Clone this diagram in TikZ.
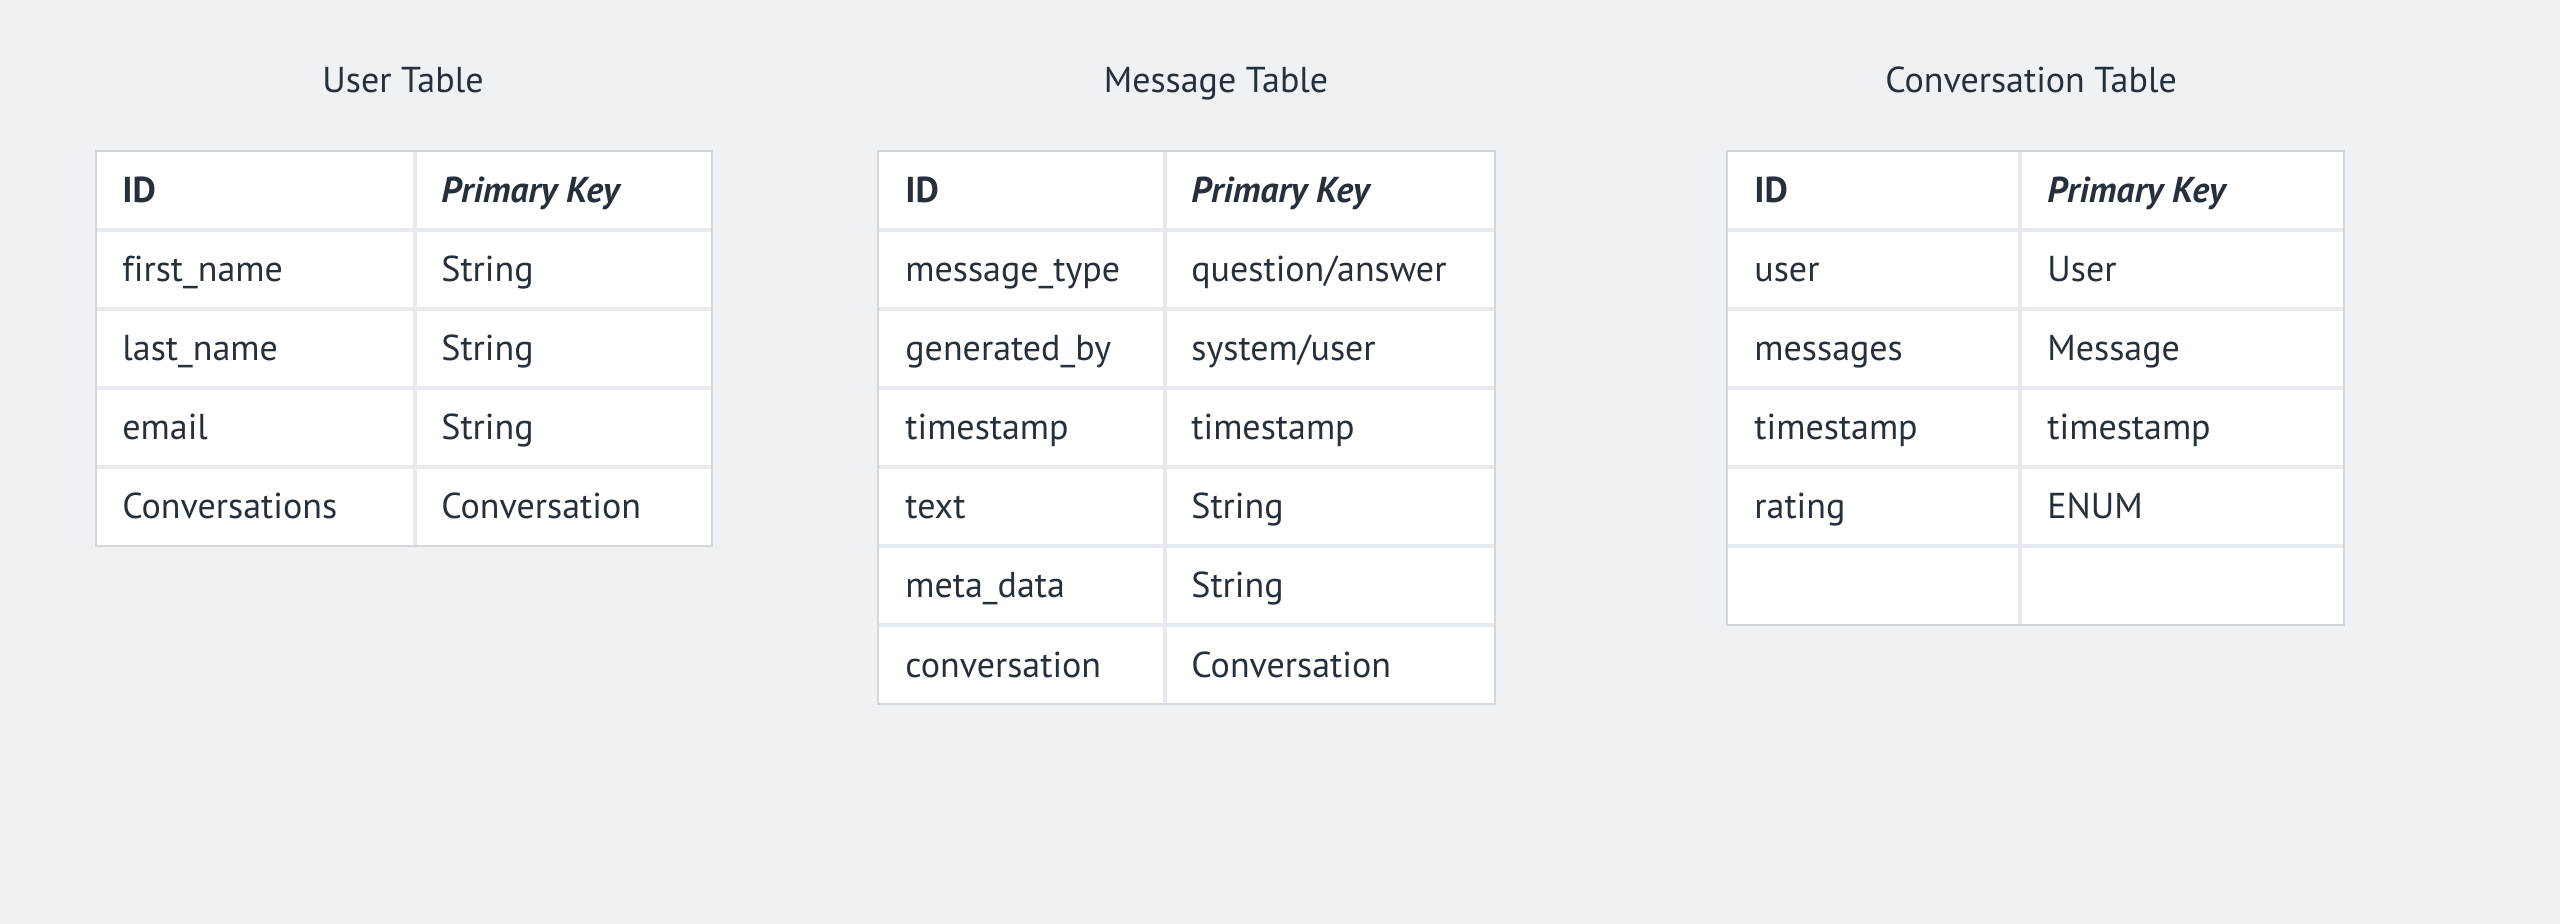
\documentclass[tikz,border=0pt]{standalone}
\usepackage{fontspec}
\setmainfont{PT Sans}[Ligatures=NoCommon]
\definecolor{bg}{HTML}{EFF2F5}
\definecolor{ink}{HTML}{26303B}
\definecolor{gridc}{HTML}{E6EAEE}
\definecolor{edgec}{HTML}{D2D7DC}
\tikzset{
  cell/.style={anchor=base west, inner sep=0pt, text=ink, font=\fontsize{18}{21}\selectfont},
  tabtitle/.style={anchor=base, inner sep=0pt, text=ink, font=\fontsize{18}{21}\selectfont},
  tablebox/.style={fill=white},
  tableedge/.style={draw=edgec, line width=0.7pt},
  gridline/.style={draw=gridc, line width=2pt},
}
\begin{document}
\begin{tikzpicture}[x=0.5pt,y=-0.5pt]
\fill[bg] (0,0) rectangle (2560,924);
\useasboundingbox (0,0) rectangle (2560,924);

% ---------------- User table
\node[tabtitle] (usertitle) at (403,93) {User Table};
\fill[tablebox] (96,151) rectangle (712,546);
\foreach \i in {1,...,4} \draw[gridline] (96,{151+79*\i}) -- (712,{151+79*\i});
\draw[gridline] (414.5,151) -- (414.5,546);
\draw[tableedge] (96,151) rectangle (712,546);
\foreach \k/\v [count=\i from 0] in {
  {\textbf{ID}}/{\textbf{\textit{Primary Key}}},
  first\_name/String,
  last\_name/String,
  email/String,
  Conversations/Conversation}{
  \node[cell] (u-k\i) at (122,{151+79*\i+52}) {\k};
  \node[cell] (u-v\i) at (441,{151+79*\i+52}) {\v};
}

% ---------------- Message table
\node[tabtitle] (msgtitle) at (1216,93) {Message Table};
\fill[tablebox] (878,151) rectangle (1495,704);
\foreach \i in {1,...,6} \draw[gridline] (878,{151+79*\i}) -- (1495,{151+79*\i});
\draw[gridline] (1164.5,151) -- (1164.5,704);
\draw[tableedge] (878,151) rectangle (1495,704);
\foreach \k [count=\i from 0] in {
  {\textbf{ID}},
  message\_type,
  generated\_by,
  timestamp,
  text,
  meta\_data,
  conversation}{
  \node[cell] (m-k\i) at (905,{151+79*\i+52}) {\k};
}
\node[cell] (m-v0) at (1191,{151+52}) {\textbf{\textit{Primary Key}}};
\node[cell] (m-v1) at (1191,{151+79+52}) {question/answer};
\node[cell] (m-v2) at (1191,{151+79*2+52}) {system/user};
\node[cell] (m-v3) at (1191,{151+79*3+52}) {timestamp};
\node[cell] (m-v4) at (1191,{151+79*4+52}) {String};
\node[cell] (m-v5) at (1191,{151+79*5+52}) {String};
\node[cell] (m-v6) at (1191,{151+79*6+52}) {Conversation};

% ---------------- Conversation table
\node[tabtitle] (convtitle) at (2031,93) {Conversation Table};
\fill[tablebox] (1727,151) rectangle (2344,625);
\foreach \i in {1,...,5} \draw[gridline] (1727,{151+79*\i}) -- (2344,{151+79*\i});
\draw[gridline] (2020,151) -- (2020,625);
\draw[tableedge] (1727,151) rectangle (2344,625);
\foreach \k/\v [count=\i from 0] in {
  {\textbf{ID}}/{\textbf{\textit{Primary Key}}},
  user/User,
  messages/Message,
  timestamp/timestamp,
  rating/ENUM}{
  \node[cell] (c-k\i) at (1754,{151+79*\i+52}) {\k};
  \node[cell] (c-v\i) at (2047,{151+79*\i+52}) {\v};
}
\end{tikzpicture}
\end{document}
